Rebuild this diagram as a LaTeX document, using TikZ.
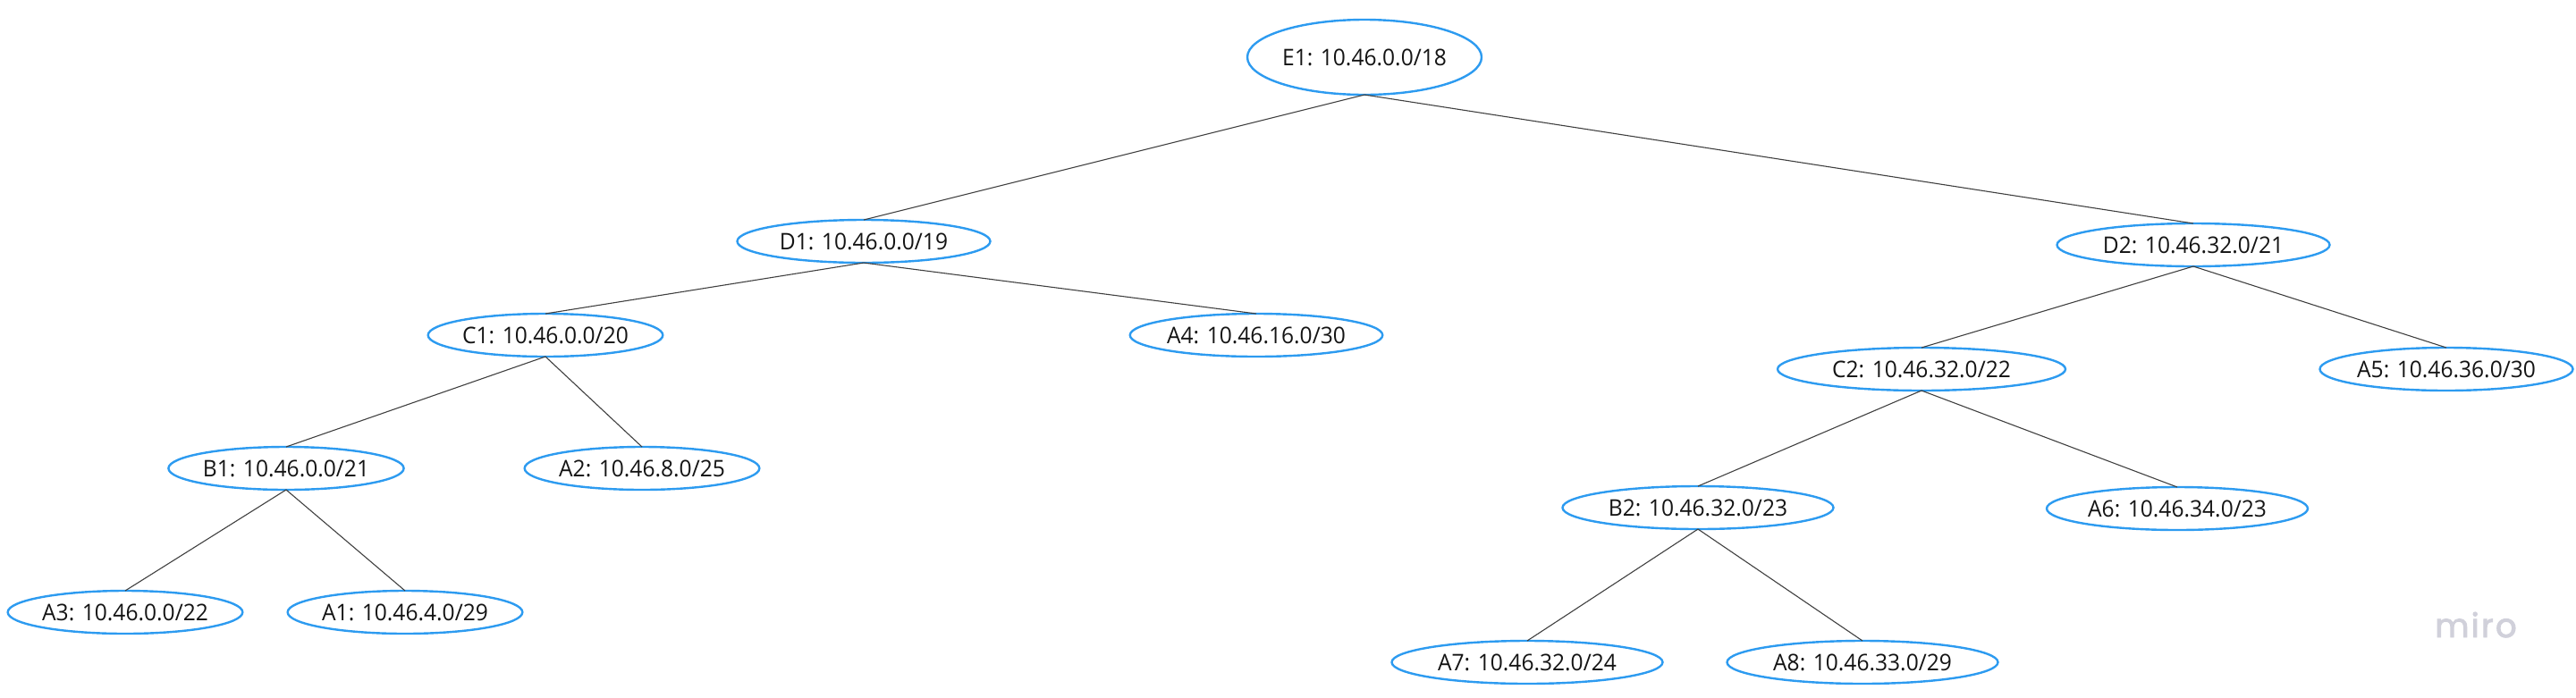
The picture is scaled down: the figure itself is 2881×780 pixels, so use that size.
\documentclass[tikz,border=0pt]{standalone}
\usepackage{fontspec}
\setmainfont[FakeStretch=0.96]{Open Sans}
\newfontfamily\logofont[LetterSpace=6,FakeBold=2.5]{Poppins}
\definecolor{netblue}{HTML}{2D9BF0}
\definecolor{edgegray}{HTML}{404040}
\definecolor{labelink}{HTML}{141414}
\definecolor{logogray}{HTML}{D0D0DA}
\usetikzlibrary{shapes.geometric}
\tikzset{
  net/.style={ellipse,draw=netblue,line width=2.4pt,inner sep=0pt,outer sep=0pt,
    minimum width=#1,minimum height=48pt,text=labelink,font=\fontsize{25.6}{28}\selectfont},
  net/.default=262pt,
  link/.style={draw=edgegray,line width=1.1pt}
}
\begin{document}
\begin{tikzpicture}[x=1pt,y=-1pt]
\useasboundingbox (0,0) rectangle (2881,780);
\node[net,minimum height=84pt] (E1) at (1526,64) {E1: 10.46.0.0/18};
\node[net=283pt] (D1) at (966,270) {D1: 10.46.0.0/19};
\node[net=305pt] (D2) at (2453,274) {D2: 10.46.32.0/21};
\node[net] (C1) at (610,375) {C1: 10.46.0.0/20};
\node[net=281pt] (A4) at (1405,375) {A4: 10.46.16.0/30};
\node[net=322pt] (C2) at (2149,413) {C2: 10.46.32.0/22};
\node[net=283pt] (A5) at (2736,413) {A5: 10.46.36.0/30};
\node[net] (B1) at (320,524) {B1: 10.46.0.0/21};
\node[net] (A2) at (718,524) {A2: 10.46.8.0/25};
\node[net=303pt] (B2) at (1899,568) {B2: 10.46.32.0/23};
\node[net=292pt] (A6) at (2435,569) {A6: 10.46.34.0/23};
\node[net] (A3) at (140,685) {A3: 10.46.0.0/22};
\node[net] (A1) at (453,685) {A1: 10.46.4.0/29};
\node[net=303pt] (A7) at (1708,741) {A7: 10.46.32.0/24};
\node[net=303pt] (A8) at (2083,741) {A8: 10.46.33.0/29};
\node[anchor=base,text=logogray,font=\logofont\fontsize{37}{40}\selectfont,inner sep=0pt] (logo) at (2769,713) {miro};
\foreach \p/\c in {E1/D1,E1/D2,D1/C1,D1/A4,C1/B1,C1/A2,B1/A3,B1/A1,D2/C2,D2/A5,C2/B2,C2/A6,B2/A7,B2/A8}
  \draw[link] (\p.south) -- (\c.north);
\end{tikzpicture}
\end{document}
